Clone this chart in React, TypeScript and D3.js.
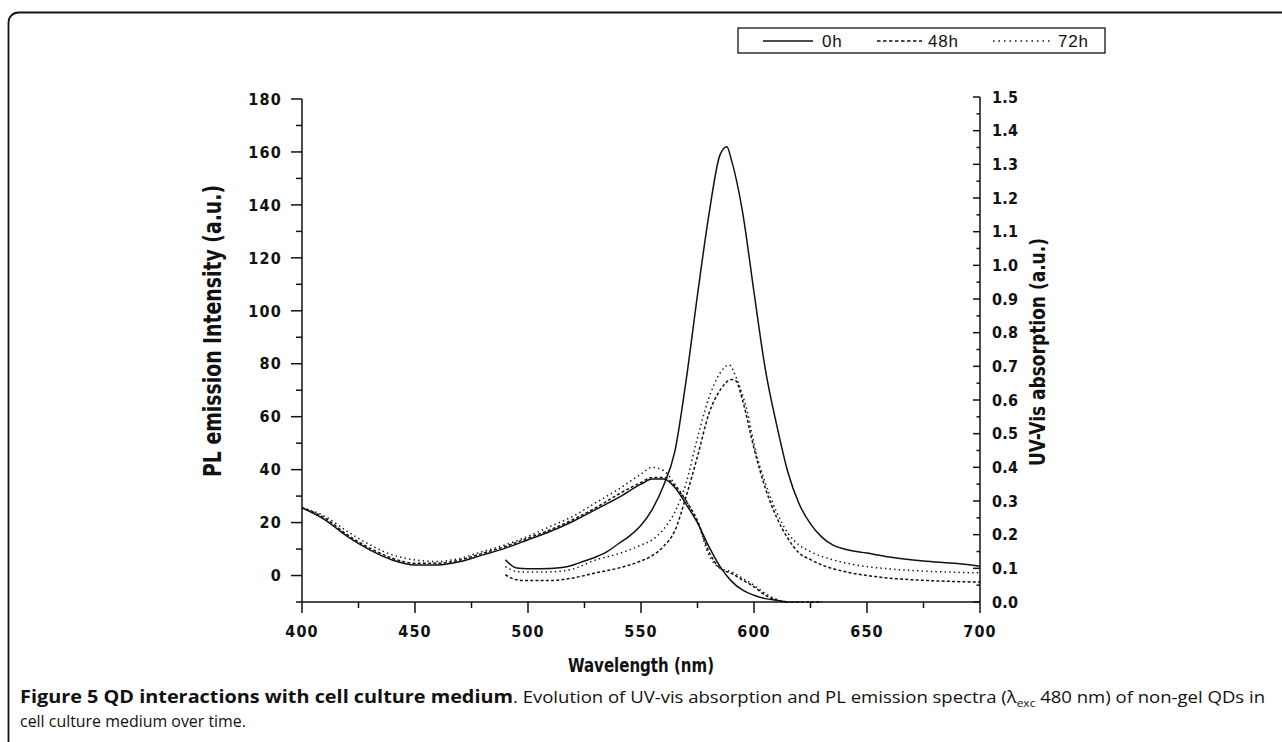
import React from "react";
import * as d3 from "d3";

// ---------- DATA ----------
const absLambda0 = [400,410,420,430,440,450,460,470,480,490,500,510,520,530,540,550,555,560,565,570,575,580,585,590,595,600,605,610,615];
const abs0h = [0.28,0.245,0.195,0.155,0.125,0.11,0.11,0.12,0.14,0.16,0.185,0.21,0.24,0.275,0.31,0.35,0.365,0.365,0.34,0.29,0.235,0.165,0.105,0.062,0.035,0.02,0.01,0.005,0.0];

const absLambdaT = [400,410,420,430,440,450,460,470,480,490,500,510,520,530,540,550,555,560,565,570,575,580,585,590,595,600,605,610,615,620,630];
const abs48h = [0.28,0.25,0.2,0.16,0.13,0.115,0.115,0.125,0.145,0.165,0.19,0.215,0.245,0.28,0.32,0.355,0.37,0.37,0.345,0.3,0.24,0.15,0.1,0.085,0.065,0.045,0.02,0.005,0.0,0.0,0.0];
const abs72h = [0.28,0.255,0.21,0.17,0.14,0.125,0.12,0.13,0.15,0.17,0.195,0.225,0.255,0.295,0.335,0.38,0.4,0.39,0.35,0.3,0.24,0.14,0.1,0.09,0.07,0.05,0.025,0.008,0.0,0.0,0.0];

const plLambda0 = [490,495,500,510,515,520,525,530,535,540,545,550,555,560,565,570,575,580,585,588,590,595,600,605,610,615,620,625,630,635,640,650,660,675,690,700];
const pl0h = [6,2.8,2.6,2.7,3,4,5.5,7,9,12,15,19,25,34,47,74,106,136,159,162,157,137,107,78,57,39,27,19.5,14.5,11.5,10,8.5,7,5.5,4.5,3.5];

const plLambda48 = [490,495,500,510,520,530,540,550,555,560,565,570,575,580,585,590,592,595,600,605,610,615,620,625,630,640,650,660,675,700];
const pl48h = [0.3,-1.6,-1.9,-1.9,-0.9,1,2.8,5.5,7.5,11,17,30,45,61,70,74,73.5,66,48,33,22,14,8.5,6,4,1.5,0,-1,-1.8,-2.5];

const plLambda72 = [490,495,500,510,520,530,540,545,550,555,560,565,570,575,580,585,589,592,597,601,605,610,615,620,625,635,645,660,680,700];
const pl72h = [3.4,1.5,1.3,1.4,2.5,5.9,8.2,9.7,11.5,13.5,17.5,24,35,52,67,76.5,79.6,75,62,46,35,24,16,11.5,9,5.9,4,2.5,1.5,1];

const seriesNames = ["0h", "48h", "72h"];
const xTicks = [400, 450, 500, 550, 600, 650, 700];
const yLeftTicks = [0, 20, 40, 60, 80, 100, 120, 140, 160, 180];
const yRightTicks = d3.range(0, 16).map((i) => i / 10);

// ---------- STYLES ----------
const dashes: Record<string, string | undefined> = { "0h": undefined, "48h": "3,2.2", "72h": "1.4,3.2" };
const legendDashes: Record<string, string | undefined> = { "0h": undefined, "48h": "3.5,2.5", "72h": "1.5,4" };
const condFont = "'DejaVu Sans Condensed', 'Liberation Sans Narrow', 'DejaVu Sans', sans-serif";
const capFont = "'Open Sans', 'Noto Sans', sans-serif";

export default function App() {
  const x = d3.scaleLinear().domain([400, 700]).range([302, 980]);
  const yL = d3.scaleLinear().domain([-10, 180]).range([602, 99]);
  const yR = d3.scaleLinear().domain([0, 1.5]).range([602, 97]);

  const zip = (a: number[], b: number[]) => a.map((v, i) => [v, b[i]] as [number, number]);
  const lineL = d3.line<[number, number]>().x((d) => x(d[0])).y((d) => yL(d[1])).curve(d3.curveMonotoneX);
  const lineR = d3.line<[number, number]>().x((d) => x(d[0])).y((d) => yR(d[1])).curve(d3.curveMonotoneX);

  const absSeries = [
    { name: "0h", d: lineR(zip(absLambda0, abs0h)) },
    { name: "48h", d: lineR(zip(absLambdaT, abs48h)) },
    { name: "72h", d: lineR(zip(absLambdaT, abs72h)) },
  ];
  const plSeries = [
    { name: "0h", d: lineL(zip(plLambda0, pl0h)) },
    { name: "48h", d: lineL(zip(plLambda48, pl48h)) },
    { name: "72h", d: lineL(zip(plLambda72, pl72h)) },
  ];

  const leftMinor = d3.range(-10, 180, 20);
  const rightMinor = d3.range(0, 15).map((i) => i / 10 + 0.05);
  const xMinor = d3.range(425, 700, 50);
  const fmt1 = d3.format(".1f");

  const legendItems = [
    { name: seriesNames[0], x1: 763, x2: 813, tx: 822 },
    { name: seriesNames[1], x1: 877, x2: 922, tx: 928 },
    { name: seriesNames[2], x1: 993, x2: 1053, tx: 1058 },
  ];

  return (
    <svg width={1282} height={742} style={{ position: "absolute", left: 0, top: 0, display: "block", background: "#fff" }}>
      {/* frame */}
      <path d="M8.5,742 V22.5 A10,10 0 0 1 18.5,12.5 H1290" fill="none" stroke="#111" strokeWidth={1.8} />

      {/* legend */}
      <rect x={738} y={28} width={367} height={25} fill="#fff" stroke="#111" strokeWidth={1.3} />
      {legendItems.map((it) => (
        <g key={it.name}>
          <line x1={it.x1} x2={it.x2} y1={41} y2={41} stroke="#111" strokeWidth={1.5} strokeDasharray={legendDashes[it.name]} />
          <text x={it.tx} y={47} fontFamily="'Liberation Sans', Arial, sans-serif" fontSize={17} letterSpacing={0.8} fill="#111">{it.name}</text>
        </g>
      ))}

      {/* axes */}
      <g stroke="#111" strokeWidth={1.5} fill="none">
        <line x1={x(400)} x2={x(400)} y1={yL(180)} y2={yL(-10)} />
        <line x1={x(700)} x2={x(700)} y1={yR(1.5)} y2={yR(0)} />
        <line x1={x(400)} x2={x(700)} y1={yL(-10)} y2={yL(-10)} />
        {yLeftTicks.map((t) => (
          <line key={"yl" + t} x1={x(400) - 11} x2={x(400)} y1={yL(t)} y2={yL(t)} />
        ))}
        {leftMinor.map((t) => (
          <line key={"ylm" + t} x1={x(400) - 6} x2={x(400)} y1={yL(t)} y2={yL(t)} />
        ))}
        {yRightTicks.map((t) => (
          <line key={"yr" + t} x1={x(700) - 7} x2={x(700)} y1={yR(t)} y2={yR(t)} />
        ))}
        {rightMinor.map((t) => (
          <line key={"yrm" + t} x1={x(700) - 3.5} x2={x(700)} y1={yR(t)} y2={yR(t)} />
        ))}
        {xTicks.map((t) => (
          <line key={"x" + t} x1={x(t)} x2={x(t)} y1={yL(-10)} y2={yL(-10) + 11} />
        ))}
        {xMinor.map((t) => (
          <line key={"xm" + t} x1={x(t)} x2={x(t)} y1={yL(-10)} y2={yL(-10) + 6} />
        ))}
      </g>

      {/* tick labels */}
      <g fontFamily={condFont} fontStretch="condensed" fontWeight="bold" fontSize={16} fill="#111">
        {yLeftTicks.map((t) => (
          <text key={"lyl" + t} x={282} y={yL(t)} dy="0.36em" textAnchor="end" letterSpacing={1.2}>{String(t)}</text>
        ))}
        {yRightTicks.map((t) => (
          <text key={"lyr" + t} x={992} y={yR(t)} dy="0.36em" textAnchor="start" letterSpacing={0.3}>{fmt1(t)}</text>
        ))}
        {xTicks.map((t) => (
          <text key={"lx" + t} x={x(t)} y={637} textAnchor="middle" letterSpacing={1.2}>{String(t)}</text>
        ))}
      </g>

      {/* axis titles */}
      <text transform="translate(221,331) rotate(-90)" textAnchor="middle" fontFamily={condFont} fontStretch="condensed" fontWeight="bold" fontSize={24} fill="#111" textLength={292} lengthAdjust="spacingAndGlyphs">PL emission Intensity (a.u.)</text>
      <text transform="translate(1045,352) rotate(-90)" textAnchor="middle" fontFamily={condFont} fontStretch="condensed" fontWeight="bold" fontSize={22} fill="#111" textLength={228} lengthAdjust="spacingAndGlyphs">UV-Vis absorption (a.u.)</text>
      <text x={641} y={672} textAnchor="middle" fontFamily={condFont} fontStretch="condensed" fontWeight="bold" fontSize={20} fill="#111" textLength={146} lengthAdjust="spacingAndGlyphs">Wavelength (nm)</text>

      {/* curves */}
      <g fill="none" stroke="#111">
        {absSeries.map((s) => (
          <path key={"abs" + s.name} d={s.d || ""} strokeWidth={1.5} strokeDasharray={dashes[s.name]} />
        ))}
        {plSeries.map((s) => (
          <path key={"pl" + s.name} d={s.d || ""} strokeWidth={1.5} strokeDasharray={dashes[s.name]} />
        ))}
      </g>

      {/* caption */}
      <text x={20} y={703} fontFamily={capFont} fontSize={17} fontWeight="bold" fill="#111" textLength={493} lengthAdjust="spacingAndGlyphs">Figure 5 QD interactions with cell culture medium</text>
      <text x={513} y={703} fontFamily={capFont} fontSize={17} fill="#111" textLength={752} lengthAdjust="spacingAndGlyphs">
        <tspan>{". Evolution of UV-vis absorption and PL emission spectra (λ"}</tspan>
        <tspan fontSize={11} dy={4}>exc</tspan>
        <tspan dy={-4}>{" 480 nm) of non-gel QDs in"}</tspan>
      </text>
      <text x={20} y={727} fontFamily={capFont} fontSize={17} fill="#111" textLength={226} lengthAdjust="spacingAndGlyphs">cell culture medium over time.</text>
    </svg>
  );
}
